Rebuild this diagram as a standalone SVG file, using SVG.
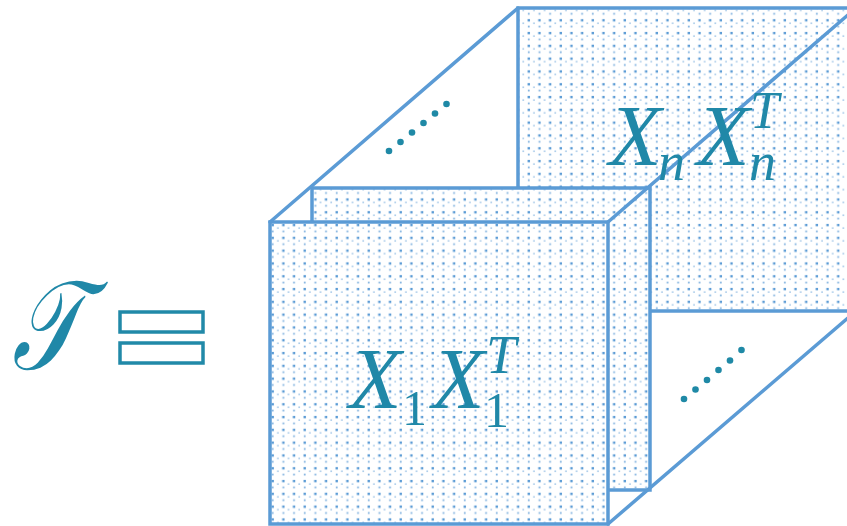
<svg xmlns="http://www.w3.org/2000/svg" width="847" height="526" viewBox="0 0 847 526">
  <defs>
    <pattern id="dots" patternUnits="userSpaceOnUse" x="270" y="222" width="10.67" height="12.8">
      <rect width="10.67" height="12.8" fill="#ffffff"/>
      <rect x="1.5" y="1.9" width="2.4" height="2.4" fill="#5b9bd5"/>
      <rect x="1.8" y="8.5" width="1.8" height="1.8" fill="#5b9bd5" opacity="0.75"/>
      <rect x="7.1" y="5.3" width="1.6" height="1.6" fill="#5b9bd5" opacity="0.55"/>
    </pattern>
    <style>
      .panel { fill: url(#dots); stroke: #5b9bd5; stroke-width: 3.5; }
      .edge { fill: none; stroke: #5b9bd5; stroke-width: 3.5; stroke-linecap: round; }
      .math { font-family: "Liberation Serif", "DejaVu Serif", serif; font-style: italic; fill: #2088a8; }
      .num { font-family: "Liberation Serif", "DejaVu Serif", serif; fill: #2088a8; }
      .dot { fill: #1f89a6; }
      .eq { fill: #ffffff; stroke: #2189a8; stroke-width: 3.5; }
    </style>
  </defs>

  <g id="lhs">
    <text class="math" x="0" y="0" font-size="120" transform="translate(12,369) scale(0.76,1.05)">𝒯</text>
    <rect class="eq" x="120" y="312" width="83" height="20"/>
    <rect class="eq" x="120" y="343" width="83" height="20"/>
  </g>

  <g id="back-panel">
    <rect class="panel" x="518" y="8" width="338" height="303"/>
  </g>

  <g id="middle-panel">
    <rect class="panel" x="312" y="188" width="338" height="302"/>
  </g>

  <g id="connectors">
    <line class="edge" x1="518" y1="8" x2="270" y2="222"/>
    <line class="edge" x1="856" y1="8" x2="608" y2="222"/>
    <line class="edge" x1="856" y1="311" x2="608" y2="524"/>
  </g>

  <g id="front-panel">
    <rect class="panel" x="270" y="222" width="338" height="302"/>
  </g>

  <g id="label-n">
    <text class="math" x="609" y="165" font-size="86">X</text>
    <text class="math" x="658" y="180" font-size="54">n</text>
    <text class="math" x="697" y="165" font-size="86">X</text>
    <text class="math" x="750" y="128" font-size="52">T</text>
    <text class="math" x="749" y="180" font-size="54">n</text>
  </g>

  <g id="label-1">
    <text class="math" x="349" y="408" font-size="86">X</text>
    <text class="num" x="402" y="425" font-size="50">1</text>
    <text class="math" x="432" y="408" font-size="86">X</text>
    <text class="math" x="486" y="373" font-size="54">T</text>
    <text class="num" x="484" y="427" font-size="50">1</text>
  </g>

  <g id="ellipsis-top">
    <circle class="dot" cx="389" cy="151" r="3.3"/>
    <circle class="dot" cx="400.5" cy="142" r="3.3"/>
    <circle class="dot" cx="412" cy="132.5" r="3.3"/>
    <circle class="dot" cx="423.5" cy="123" r="3.3"/>
    <circle class="dot" cx="435" cy="113.5" r="3.3"/>
    <circle class="dot" cx="446.5" cy="104" r="3.3"/>
  </g>

  <g id="ellipsis-bottom">
    <circle class="dot" cx="684" cy="399" r="3.3"/>
    <circle class="dot" cx="695.5" cy="389.5" r="3.3"/>
    <circle class="dot" cx="707" cy="380" r="3.3"/>
    <circle class="dot" cx="718.5" cy="370" r="3.3"/>
    <circle class="dot" cx="730" cy="360.5" r="3.3"/>
    <circle class="dot" cx="741.5" cy="350" r="3.3"/>
  </g>
</svg>
